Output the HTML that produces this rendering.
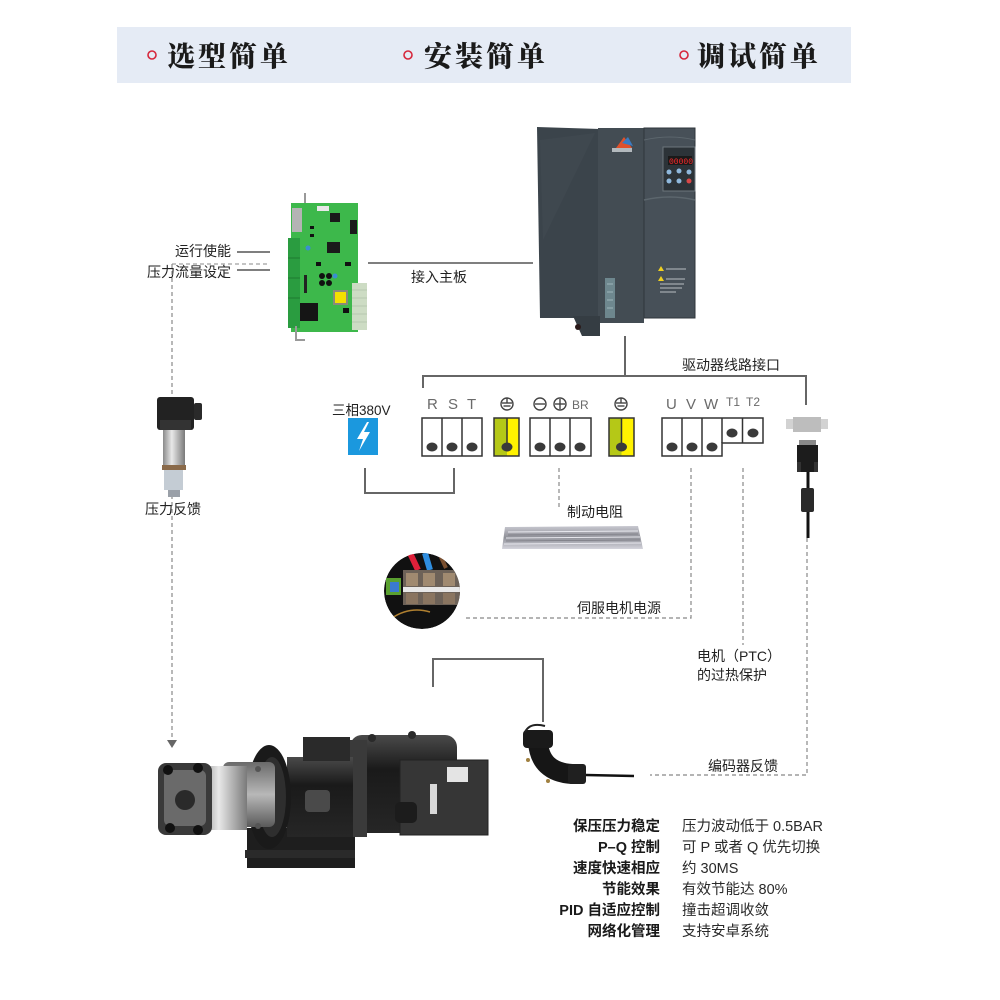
<!DOCTYPE html>
<html><head><meta charset="utf-8"><style>
html,body{margin:0;padding:0;background:#fff;}
svg{display:block;}
.s{font-family:"Liberation Sans","Noto Sans CJK SC",sans-serif;font-size:14px;fill:#222;}
.h{font-family:"Liberation Serif","Noto Serif CJK SC",serif;font-size:28px;font-weight:900;fill:#1a1a1a;letter-spacing:3px;}
.t{font-family:"Liberation Sans","Noto Sans CJK SC",sans-serif;font-size:15px;fill:#6a6a6a;}
.b{font-family:"Liberation Sans","Noto Sans CJK SC",sans-serif;font-size:14.5px;font-weight:bold;fill:#1a1a1a;}
.r{font-family:"Liberation Sans","Noto Sans CJK SC",sans-serif;font-size:14.5px;fill:#2a2a2a;}
</style></head><body>
<svg width="1000" height="1000" viewBox="0 0 1000 1000" xmlns="http://www.w3.org/2000/svg">
<defs>
<linearGradient id="metal" x1="0" y1="0" x2="0" y2="1">
<stop offset="0" stop-color="#c8c8d0"/><stop offset="0.5" stop-color="#8f9098"/><stop offset="1" stop-color="#d4d4dc"/></linearGradient>
<linearGradient id="silver" x1="0" y1="0" x2="1" y2="0">
<stop offset="0" stop-color="#8a8a8a"/><stop offset="0.4" stop-color="#e8e8e8"/><stop offset="1" stop-color="#7a7a7a"/></linearGradient>
<linearGradient id="mot" x1="0" y1="0" x2="0" y2="1">
<stop offset="0" stop-color="#4a4a4a"/><stop offset="0.35" stop-color="#1a1a1a"/><stop offset="1" stop-color="#262626"/></linearGradient>
<linearGradient id="pumpg" x1="0" y1="0" x2="0" y2="1">
<stop offset="0" stop-color="#6a6a6a"/><stop offset="0.5" stop-color="#b8b8b8"/><stop offset="1" stop-color="#5a5a5a"/></linearGradient>
<clipPath id="cc"><circle cx="422" cy="591" r="38"/></clipPath>
</defs>

<!-- header -->
<rect x="117" y="27" width="734" height="56" fill="#e5ebf5"/>
<circle cx="152" cy="55" r="4" fill="none" stroke="#d6263b" stroke-width="1.6"/>
<circle cx="408" cy="55" r="4" fill="none" stroke="#d6263b" stroke-width="1.6"/>
<circle cx="684" cy="55" r="4" fill="none" stroke="#d6263b" stroke-width="1.6"/>
<text class="h" x="167" y="66">选型简单</text>
<text class="h" x="424" y="66">安装简单</text>
<text class="h" x="697" y="66">调试简单</text>

<!-- PCB labels and lines -->
<text class="s" x="175" y="256">运行使能</text>
<text class="s" x="147" y="277">压力流量设定</text>
<line x1="237" y1="252" x2="270" y2="252" stroke="#555" stroke-width="1.5"/>
<line x1="237" y1="270" x2="270" y2="270" stroke="#555" stroke-width="1.5"/>
<line x1="172" y1="264" x2="270" y2="264" stroke="#888" stroke-width="1" stroke-dasharray="4,3"/>
<line x1="172" y1="264" x2="172" y2="741" stroke="#888" stroke-width="1.2" stroke-dasharray="4,3"/>
<polygon points="167,740 177,740 172,748" fill="#666"/>

<!-- PCB -->
<path d="M305,193 L305,205 L315,205" fill="none" stroke="#999" stroke-width="2"/>
<rect x="291" y="203" width="67" height="129" fill="#3db84b"/>
<rect x="352" y="283" width="15" height="47" fill="#cddcc4"/>
<g stroke="#b8c8b0" stroke-width="1"><line x1="352" y1="290" x2="367" y2="290"/><line x1="352" y1="298" x2="367" y2="298"/><line x1="352" y1="306" x2="367" y2="306"/><line x1="352" y1="314" x2="367" y2="314"/><line x1="352" y1="322" x2="367" y2="322"/></g>
<rect x="288" y="238" width="12" height="90" fill="#2a9c40"/>
<g stroke="#1e7a30" stroke-width="1"><line x1="288" y1="258" x2="300" y2="258"/><line x1="288" y1="278" x2="300" y2="278"/><line x1="288" y1="298" x2="300" y2="298"/></g>
<rect x="292" y="208" width="10" height="24" fill="#b4b4b4"/>
<rect x="317" y="206" width="12" height="5" fill="#e8e8e8"/>
<rect x="330" y="213" width="10" height="9" fill="#1a1a1a"/>
<rect x="327" y="242" width="13" height="11" fill="#1a1a1a"/>
<rect x="350" y="220" width="7" height="14" fill="#1a1a1a"/>
<rect x="300" y="303" width="18" height="18" fill="#151515"/>
<rect x="333" y="290" width="15" height="15" fill="#8a8a7a"/>
<rect x="335" y="292" width="11" height="11" fill="#f4e000"/>
<circle cx="322" cy="276" r="3" fill="#111"/><circle cx="329" cy="276" r="3" fill="#111"/><circle cx="322" cy="283" r="3" fill="#111"/><circle cx="329" cy="283" r="3" fill="#111"/>
<circle cx="335" cy="276" r="2.5" fill="#3a8fd0"/><circle cx="308" cy="248" r="2.5" fill="#3a8fd0"/>
<rect x="343" y="308" width="6" height="5" fill="#111"/>
<rect x="310" y="226" width="4" height="3" fill="#111"/><rect x="310" y="234" width="4" height="3" fill="#111"/><rect x="316" y="262" width="5" height="4" fill="#111"/><rect x="345" y="262" width="6" height="4" fill="#111"/>
<rect x="304" y="275" width="3" height="18" fill="#222"/>
<path d="M296,326 L296,340 L305,340" fill="none" stroke="#999" stroke-width="2"/>

<line x1="368" y1="263" x2="533" y2="263" stroke="#555" stroke-width="1.5"/>
<text class="s" x="411" y="282">接入主板</text>

<!-- inverter -->
<polygon points="537,127 600,129 600,318 540,318" fill="#3b444b"/>
<polygon points="540,140 595,133 543,240" fill="#434c53" opacity="0.5"/>
<rect x="598" y="128" width="46" height="195" fill="#434c53"/>
<rect x="644" y="128" width="51" height="190" fill="#475058" stroke="#2f363b" stroke-width="1"/>
<polygon points="573,316 600,316 600,336 582,336" fill="#353d43"/>
<circle cx="578" cy="327" r="3" fill="#2a1a1a"/>
<path d="M644,200 Q670,194 695,200" fill="none" stroke="#5c666d" stroke-width="1.5"/>
<path d="M644,140 Q670,134 695,140" fill="none" stroke="#5c666d" stroke-width="1"/>
<polygon points="616,148 624,137 632,148" fill="#e0502a"/>
<polygon points="622,143 628,137 633,146" fill="#3a7ac0"/>
<rect x="612" y="148" width="20" height="4" fill="#cfd4d8" opacity="0.8"/>
<rect x="663" y="147" width="32" height="44" fill="#2c3338" stroke="#6c767c" stroke-width="1"/>
<rect x="668" y="156" width="24" height="9" fill="#1a1a1a"/>
<text x="669" y="164" font-family="Liberation Mono,monospace" font-size="8" fill="#ff2a2a">00000</text>
<g fill="#8fb8dc"><circle cx="669" cy="172" r="2.5"/><circle cx="679" cy="171" r="2.5"/><circle cx="689" cy="172" r="2.5"/><circle cx="669" cy="181" r="2.5"/><circle cx="679" cy="181" r="2.5"/></g>
<circle cx="689" cy="181" r="2.5" fill="#d84848"/>
<polygon points="658,271 661,266 664,271" fill="#f0d020"/>
<polygon points="658,281 661,276 664,281" fill="#f0d020"/>
<g stroke="#b8bec2" stroke-width="1"><line x1="666" y1="269" x2="686" y2="269"/><line x1="666" y1="279" x2="685" y2="279"/><line x1="660" y1="284" x2="684" y2="284"/><line x1="660" y1="288" x2="682" y2="288"/><line x1="660" y1="292" x2="676" y2="292"/></g>
<rect x="605" y="278" width="10" height="40" fill="#6e878e"/>
<g stroke="#9fb4ba" stroke-width="1"><line x1="607" y1="284" x2="613" y2="284"/><line x1="607" y1="292" x2="613" y2="292"/><line x1="607" y1="300" x2="613" y2="300"/><line x1="607" y1="308" x2="613" y2="308"/></g>

<!-- connector tree -->
<line x1="625" y1="336" x2="625" y2="376" stroke="#666" stroke-width="2"/>
<polyline points="423,388 423,376 806,376 806,405" fill="none" stroke="#666" stroke-width="2"/>
<text class="s" x="682" y="370">驱动器线路接口</text>

<!-- 380V -->
<text class="s" x="332" y="415" style="font-size:13.5px">三相380V</text>
<rect x="348" y="418" width="30" height="37" fill="#1b98de"/>
<path d="M367,422 L357,439 L363,439 L359,451 L370,432 L364,432 L369,422 Z" fill="#fff"/>
<polyline points="365,468 365,493 454,493 454,468" fill="none" stroke="#666" stroke-width="2"/>

<!-- labels -->
<text class="t" x="427" y="409">R</text>
<text class="t" x="448" y="409">S</text>
<text class="t" x="467" y="409">T</text>
<text class="t" x="666" y="409">U</text>
<text class="t" x="686" y="409">V</text>
<text class="t" x="704" y="409">W</text>
<text class="t" x="726" y="406" style="font-size:12px">T1</text>
<text class="t" x="746" y="406" style="font-size:12px">T2</text>
<text class="t" x="572" y="409" style="font-size:12px">BR</text>
<g fill="none" stroke="#444" stroke-width="1.4">
<circle cx="540" cy="404" r="6"/><line x1="535" y1="404" x2="545" y2="404"/>
<circle cx="560" cy="404" r="6"/><line x1="555" y1="404" x2="565" y2="404"/><line x1="560" y1="399" x2="560" y2="409"/>
<circle cx="507" cy="404" r="6"/><line x1="507" y1="398" x2="507" y2="403"/><line x1="502" y1="403" x2="512" y2="403"/><line x1="503.5" y1="406" x2="510.5" y2="406"/>
<circle cx="621" cy="404" r="6"/><line x1="621" y1="398" x2="621" y2="403"/><line x1="616" y1="403" x2="626" y2="403"/><line x1="617.5" y1="406" x2="624.5" y2="406"/>
</g>

<!-- terminal blocks -->
<g stroke="#333" stroke-width="1.5">
<rect x="422" y="418" width="60" height="38" fill="#fff"/>
<line x1="442" y1="418" x2="442" y2="456"/><line x1="462" y1="418" x2="462" y2="456"/>
<rect x="494" y="418" width="13" height="38" fill="#b5c817" stroke="none"/>
<rect x="507" y="418" width="12" height="38" fill="#fff200" stroke="none"/>
<rect x="494" y="418" width="25" height="38" fill="none"/>
<line x1="507" y1="418" x2="507" y2="447"/>
<rect x="530" y="418" width="61" height="38" fill="#fff"/>
<line x1="550" y1="418" x2="550" y2="456"/><line x1="570" y1="418" x2="570" y2="456"/>
<rect x="609" y="418" width="12.5" height="38" fill="#b5c817" stroke="none"/>
<rect x="621.5" y="418" width="12.5" height="38" fill="#fff200" stroke="none"/>
<rect x="609" y="418" width="25" height="38" fill="none"/>
<line x1="621.5" y1="418" x2="621.5" y2="447"/>
<path d="M662,418 L763,418 L763,443 L722,443 L722,456 L662,456 Z" fill="#fff"/>
<line x1="682" y1="418" x2="682" y2="456"/><line x1="702" y1="418" x2="702" y2="456"/><line x1="722" y1="418" x2="722" y2="443"/><line x1="742.5" y1="418" x2="742.5" y2="443"/>
</g>
<g fill="#3a3a3a">
<ellipse cx="432" cy="447" rx="5.5" ry="4.5"/><ellipse cx="452" cy="447" rx="5.5" ry="4.5"/><ellipse cx="472" cy="447" rx="5.5" ry="4.5"/>
<ellipse cx="507" cy="447" rx="5.5" ry="4.5"/>
<ellipse cx="540" cy="447" rx="5.5" ry="4.5"/><ellipse cx="560" cy="447" rx="5.5" ry="4.5"/><ellipse cx="580" cy="447" rx="5.5" ry="4.5"/>
<ellipse cx="621.5" cy="447" rx="5.5" ry="4.5"/>
<ellipse cx="672" cy="447" rx="5.5" ry="4.5"/><ellipse cx="692" cy="447" rx="5.5" ry="4.5"/><ellipse cx="712" cy="447" rx="5.5" ry="4.5"/>
<ellipse cx="732" cy="433" rx="5.5" ry="4.5"/><ellipse cx="753" cy="433" rx="5.5" ry="4.5"/>
</g>

<!-- right connector + DB9 -->
<rect x="786" y="419" width="8" height="10" fill="#d2d2d2"/>
<rect x="820" y="419" width="8" height="10" fill="#d2d2d2"/>
<rect x="793" y="417" width="28" height="15" fill="#bdbdbd"/>
<rect x="799" y="440" width="17" height="6" fill="#8a8a8a"/>
<rect x="797" y="445" width="21" height="27" fill="#1c1c1c"/>
<rect x="797" y="462" width="4" height="10" fill="#333"/><rect x="814" y="462" width="4" height="10" fill="#333"/>
<line x1="808" y1="472" x2="808" y2="538" stroke="#111" stroke-width="3"/>
<rect x="801" y="488" width="13" height="24" rx="2" fill="#2a2a2a"/>

<!-- dashed connections -->
<g fill="none" stroke="#888" stroke-width="1.2" stroke-dasharray="4,3">
<line x1="559" y1="468" x2="559" y2="510"/>
<polyline points="691,468 691,618 464,618"/>
<line x1="743" y1="468" x2="743" y2="645"/>
<polyline points="807,538 807,775 650,775"/>
</g>
<text class="s" x="567" y="517">制动电阻</text>
<text class="s" x="577" y="613">伺服电机电源</text>
<text class="s" x="697" y="661">电机（PTC）</text>
<text class="s" x="697" y="680">的过热保护</text>
<text class="s" x="708" y="771">编码器反馈</text>

<!-- brake resistor -->
<polygon points="505,527 638,526 643,549 502,549" fill="url(#metal)"/>
<g stroke="#e8e8ee" stroke-width="1"><line x1="508" y1="532" x2="638" y2="531"/><line x1="506" y1="538" x2="640" y2="537"/><line x1="504" y1="544" x2="641" y2="543"/></g>
<g stroke="#7a7a82" stroke-width="0.8"><line x1="508" y1="535" x2="638" y2="534"/><line x1="506" y1="541" x2="640" y2="540"/></g>

<!-- servo photo -->
<g clip-path="url(#cc)">
<circle cx="422" cy="591" r="38" fill="#111"/>
<path d="M410,553 L418,570" stroke="#e0203a" stroke-width="6"/>
<path d="M425,553 L430,570" stroke="#2f8ee0" stroke-width="6"/>
<path d="M440,555 L446,568" stroke="#7a5030" stroke-width="4"/>
<rect x="403" y="570" width="57" height="35" fill="#6d6258"/>
<rect x="406" y="573" width="12" height="13" fill="#a08a70"/><rect x="423" y="573" width="12" height="13" fill="#a08a70"/><rect x="443" y="573" width="12" height="13" fill="#a08a70"/>
<rect x="406" y="593" width="12" height="11" fill="#8a7560"/><rect x="423" y="593" width="12" height="11" fill="#8a7560"/><rect x="443" y="593" width="12" height="11" fill="#8a7560"/>
<rect x="403" y="587" width="57" height="5" fill="#e8e8e8"/>
<rect x="386" y="578" width="15" height="17" fill="#5aa030"/>
<rect x="390" y="582" width="9" height="10" fill="#3a7ad0"/>
<path d="M392,618 Q410,606 430,612" stroke="#b08030" stroke-width="1.5" fill="none"/>
</g>

<!-- pressure sensor -->
<rect x="157" y="397" width="37" height="33" rx="3" fill="#222"/>
<rect x="194" y="403" width="8" height="17" rx="2" fill="#2a2a2a"/>
<rect x="160" y="420" width="31" height="10" fill="#333"/>
<rect x="163" y="430" width="22" height="37" fill="url(#silver)"/>
<rect x="162" y="465" width="24" height="5" fill="#8a6a4a"/>
<rect x="164" y="470" width="19" height="20" fill="#c4ccd4"/>
<rect x="168" y="490" width="12" height="7" fill="#9aa0a8"/>
<text class="s" x="145" y="514">压力反馈</text>

<!-- motor power line -->
<polyline points="433,687 433,659 543,659 543,722" fill="none" stroke="#666" stroke-width="2"/>

<!-- elbow connector -->
<path d="M538,742 Q540,772 572,774" fill="none" stroke="#161616" stroke-width="20" stroke-linecap="round"/>
<rect x="523" y="730" width="30" height="18" rx="4" fill="#1a1a1a"/>
<path d="M525,732 Q530,722 545,726" fill="none" stroke="#222" stroke-width="2"/>
<rect x="568" y="764" width="18" height="20" rx="3" fill="#202020"/>
<line x1="586" y1="775" x2="634" y2="776" stroke="#111" stroke-width="2.5"/>
<circle cx="528" cy="760" r="2" fill="#a08040"/><circle cx="548" cy="781" r="2" fill="#a08040"/>

<!-- motor/pump -->
<rect x="247" y="828" width="108" height="40" fill="#1e1e1e"/>
<rect x="245" y="850" width="110" height="8" fill="#2a2a2a"/>
<rect x="350" y="735" width="107" height="98" rx="12" fill="url(#mot)"/>
<rect x="347" y="740" width="20" height="97" fill="#3a3a3a"/>
<rect x="287" y="757" width="66" height="80" fill="url(#mot)"/>
<rect x="303" y="737" width="47" height="24" fill="#2a2a2a"/>
<rect x="305" y="790" width="25" height="22" rx="4" fill="#4a4a4a"/>
<ellipse cx="269" cy="797" rx="22" ry="52" fill="#1a1a1a"/>
<ellipse cx="272" cy="797" rx="14" ry="40" fill="#2e2e2e"/>
<rect x="223" y="762" width="52" height="65" rx="6" fill="url(#pumpg)"/>
<rect x="200" y="766" width="47" height="64" fill="url(#silver)"/>
<rect x="158" y="763" width="54" height="72" rx="8" fill="#3a3a3a"/>
<rect x="164" y="770" width="42" height="56" rx="6" fill="#6a6a6a"/>
<circle cx="185" cy="800" r="10" fill="#2a2a2a"/>
<circle cx="168" cy="770" r="5" fill="#111"/><circle cx="170" cy="828" r="5" fill="#111"/><circle cx="198" cy="768" r="5" fill="#111"/><circle cx="198" cy="830" r="5" fill="#111"/>
<circle cx="258" cy="769" r="3" fill="#555"/><circle cx="258" cy="826" r="3" fill="#555"/>
<circle cx="412" cy="735" r="4" fill="#2a2a2a"/><circle cx="372" cy="738" r="4" fill="#2a2a2a"/>
<rect x="400" y="760" width="88" height="75" fill="#363636" stroke="#222" stroke-width="1"/>
<rect x="447" y="767" width="21" height="15" fill="#e4e4e4"/>
<rect x="430" y="784" width="7" height="30" fill="#d8d8d8"/>
<rect x="395" y="802" width="22" height="21" rx="5" fill="#1c1c1c"/>

<!-- features table -->
<g class="b" text-anchor="end">
<text class="b" x="660" y="831">保压压力稳定</text>
<text class="b" x="660" y="852">P–Q 控制</text>
<text class="b" x="660" y="873">速度快速相应</text>
<text class="b" x="660" y="894">节能效果</text>
<text class="b" x="660" y="915">PID 自适应控制</text>
<text class="b" x="660" y="936">网络化管理</text>
</g>
<text class="r" x="682" y="831">压力波动低于 0.5BAR</text>
<text class="r" x="682" y="852">可 P 或者 Q 优先切换</text>
<text class="r" x="682" y="873">约 30MS</text>
<text class="r" x="682" y="894">有效节能达 80%</text>
<text class="r" x="682" y="915">撞击超调收敛</text>
<text class="r" x="682" y="936">支持安卓系统</text>
</svg>
</body></html>
